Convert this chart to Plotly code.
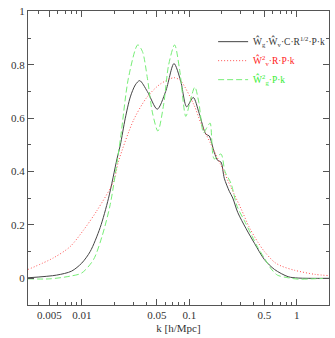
import plotly.graph_objects as go

# values
k_cross = [0.00316, 0.00583, 0.00805, 0.01, 0.01197, 0.01483, 0.01774, 0.02128, 0.02286,
           0.0254, 0.0283, 0.0315, 0.0346, 0.0408, 0.0504, 0.0603, 0.0721, 0.0832, 0.0946,
           0.109, 0.1236, 0.1429, 0.1531, 0.1706, 0.1837, 0.1972, 0.2118, 0.236, 0.254,
           0.2825, 0.338, 0.4046, 0.501, 0.622, 0.832, 1.03, 1.995]
w_cross = [0.002, 0.012, 0.027, 0.057, 0.10, 0.19, 0.30, 0.448, 0.50,
           0.60, 0.68, 0.725, 0.741, 0.70, 0.634, 0.70, 0.805, 0.74, 0.643,
           0.678, 0.619, 0.54, 0.534, 0.473, 0.442, 0.436, 0.375, 0.326, 0.301,
           0.247, 0.186, 0.131, 0.07, 0.033, 0.006, 0.001, 0.0]

k_vel = [0.00316, 0.00542, 0.00776, 0.01035, 0.0138, 0.01977, 0.02203, 0.0304, 0.0406,
         0.0541, 0.0724, 0.0832, 0.1109, 0.1282, 0.1589, 0.1972, 0.2449, 0.304, 0.363,
         0.4355, 0.501, 0.622, 0.719, 0.957, 1.466, 1.995]
w_vel = [0.033, 0.076, 0.118, 0.18, 0.253, 0.363, 0.44, 0.594, 0.68,
         0.729, 0.752, 0.74, 0.649, 0.582, 0.503, 0.424, 0.34, 0.26, 0.19,
         0.135, 0.10, 0.06, 0.046, 0.03, 0.015, 0.01]

k_gal = [0.00316, 0.00505, 0.00776, 0.01, 0.01285, 0.01538, 0.01841, 0.02286, 0.02716,
         0.0332, 0.0367, 0.0408, 0.0455, 0.0511, 0.0577, 0.0643, 0.0731, 0.0815, 0.0929,
         0.1014, 0.1127, 0.1227, 0.1358, 0.1459, 0.1563, 0.1706, 0.1972, 0.2153, 0.2449,
         0.2786, 0.3258, 0.3767, 0.4285, 0.501, 0.579, 0.661, 0.832, 1.03, 1.38, 1.995]
w_gal = [-0.002, -0.002, 0.008, 0.02, 0.07, 0.155, 0.277, 0.521, 0.75,
         0.875, 0.85, 0.75, 0.62, 0.552, 0.65, 0.8, 0.875, 0.78, 0.607,
         0.66, 0.717, 0.66, 0.546, 0.565, 0.582, 0.448, 0.466, 0.40, 0.355,
         0.27, 0.216, 0.165, 0.12, 0.075, 0.035, 0.012, 0.002, -0.003, -0.002, 0.0]

x_ticks = [0.005, 0.01, 0.05, 0.1, 0.5, 1]
x_labels = ["0.005", "0.01", "0.05", "0.1", "0.5", "1"]
x_minor = [0.004, 0.006, 0.007, 0.008, 0.009, 0.02, 0.03, 0.04, 0.06, 0.07, 0.08, 0.09,
           0.2, 0.3, 0.4, 0.6, 0.7, 0.8, 0.9, 2]

names = [
    "<span style='color:#333333'>Ŵ<sub>g</sub>·Ŵ<sub>v</sub>·C·R<sup>1/2</sup>·P·k</span>",
    "<span style='color:#ff2020'>Ŵ<sup>2</sup><sub>v</sub>·R·P·k</span>",
    "<span style='color:#33ee33'>Ŵ<sup>2</sup><sub>g</sub>·P·k</span>",
]

fig = go.Figure()
fig.add_trace(go.Scatter(x=k_cross, y=w_cross, mode="lines", name=names[0],
                         line=dict(color="#444444", width=1, shape="spline", smoothing=0.8)))
fig.add_trace(go.Scatter(x=k_vel, y=w_vel, mode="lines", name=names[1],
                         line=dict(color="#ff5050", width=1, dash="1px,2px", shape="spline", smoothing=0.8)))
fig.add_trace(go.Scatter(x=k_gal, y=w_gal, mode="lines", name=names[2],
                         line=dict(color="#77ee77", width=1, dash="6px,3px", shape="spline", smoothing=0.8)))

axis_common = dict(showline=True, linecolor="#555555", linewidth=1, mirror="allticks",
                   ticks="inside", ticklen=6, tickcolor="#555555", showgrid=False,
                   zeroline=False, tickfont=dict(family="Liberation Serif", size=11, color="#333333"))

fig.update_xaxes(type="log", range=[-2.5, 0.3], tickmode="array", tickvals=x_ticks,
                 ticktext=x_labels,
                 minor=dict(tickmode="array", tickvals=x_minor, ticks="inside", ticklen=3,
                            tickcolor="#555555", showgrid=False),
                 title=dict(text="k [h/Mpc]", font=dict(family="Liberation Serif", size=11, color="#333333"),
                            standoff=4),
                 **axis_common)
fig.update_yaxes(range=[-0.1, 1.002], tickmode="array", tickvals=[0, 0.2, 0.4, 0.6, 0.8, 1],
                 ticktext=["0", "0.2", "0.4", "0.6", "0.8", "1"],
                 minor=dict(dtick=0.1, ticks="inside", ticklen=3, tickcolor="#555555", showgrid=False),
                 **axis_common)

fig.update_layout(width=335, height=338, margin=dict(l=28, r=6, t=5, b=32),
                  paper_bgcolor="white", plot_bgcolor="white", showlegend=True,
                  legend=dict(x=0.615, y=0.945, xanchor="left", yanchor="top",
                              bgcolor="rgba(0,0,0,0)", tracegroupgap=0,
                              font=dict(family="Liberation Serif", size=9.5)))

fig.write_html("out.html", config={"displayModeBar": False},
               post_script="document.body.style.margin='0';")
